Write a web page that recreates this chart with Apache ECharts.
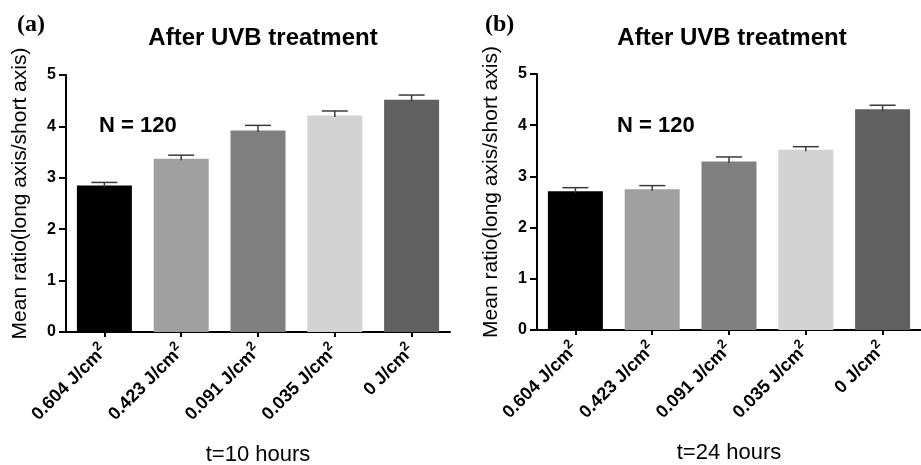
<!DOCTYPE html>
<html>
<head>
<meta charset="utf-8">
<script src="https://cdn.jsdelivr.net/npm/echarts@6/dist/echarts.min.js"></script>
<style>html,body{margin:0;padding:0;background:#fff;}#c{width:921px;height:465px;}</style>
</head>
<body>
<div id="c"></div>
<script>
const categories = ['0.604 J/cm', '0.423 J/cm', '0.091 J/cm', '0.035 J/cm', '0 J/cm'];
const means10h = [2.85, 3.37, 3.92, 4.21, 4.52];
const err10h = [0.06, 0.07, 0.10, 0.09, 0.09];
const means24h = [2.71, 2.75, 3.29, 3.52, 4.31];
const err24h = [0.07, 0.07, 0.09, 0.06, 0.08];
const barColors = ['#000000', '#a0a0a0', '#808080', '#d3d3d3', '#606060'];

const FONT = 'Liberation Sans';
const chart = echarts.init(document.getElementById('c'), null, {renderer: 'canvas'});

function barData(vals) {
  return vals.map((v, i) => ({value: v, itemStyle: {color: barColors[i]}}));
}
function errData(vals, errs) {
  return vals.map((v, i) => [i, v, errs[i]]);
}
function errRender(params, api) {
  const x = api.value(0), v = api.value(1), e = api.value(2);
  const p0 = api.coord([x, v]);
  const p1 = api.coord([x, v + e]);
  const st = {stroke: '#3a3a3a', lineWidth: 1.5};
  return {
    type: 'group',
    children: [
      {type: 'line', shape: {x1: p0[0], y1: p0[1] + 1.5, x2: p1[0], y2: p1[1]}, style: st},
      {type: 'line', shape: {x1: p1[0] - 13, y1: p1[1], x2: p1[0] + 13, y2: p1[1]}, style: st}
    ]
  };
}
function xAxis(idx, name) {
  return {
    type: 'category', gridIndex: idx, data: categories,
    axisLine: {show: true, lineStyle: {color: '#000', width: 2}},
    axisTick: {show: true, alignWithLabel: true, length: 5, lineStyle: {color: '#000', width: 2}},
    axisLabel: {
      interval: 0, rotate: 45, margin: 16, color: '#000',
      formatter: v => '{n|' + v + '}{s|2}',
      rich: {
        n: {fontFamily: FONT, fontWeight: 'bold', fontSize: 18, color: '#000'},
        s: {fontFamily: FONT, fontWeight: 'bold', fontSize: 13, color: '#000', verticalAlign: 'top', padding: [0, 0, 12, 0]}
      }
    },
    name: name, nameLocation: 'middle', nameGap: 112,
    nameTextStyle: {fontFamily: FONT, fontSize: 22, color: '#000'}
  };
}
function yAxis(idx) {
  return {
    type: 'value', gridIndex: idx, min: 0, max: 5, interval: 1,
    axisLine: {show: true, lineStyle: {color: '#000', width: 2}},
    axisTick: {show: true, length: 7, lineStyle: {color: '#000', width: 2}},
    splitLine: {show: false},
    axisLabel: {fontFamily: FONT, fontWeight: 'bold', fontSize: 16, color: '#000', margin: 10},
    name: 'Mean ratio(long axis/short axis)', nameLocation: 'middle', nameGap: 35,
    nameTextStyle: {fontFamily: FONT, fontSize: 21, color: '#000', padding: [0, 0, 0, 20]}
  };
}

chart.setOption({
  animation: false,
  backgroundColor: '#fff',
  title: [
    {text: 'After UVB treatment', left: 258, top: 21, textAlign: 'center',
     textStyle: {fontFamily: FONT, fontWeight: 'bold', fontSize: 24, color: '#000'}},
    {text: 'After UVB treatment', left: 727, top: 21, textAlign: 'center',
     textStyle: {fontFamily: FONT, fontWeight: 'bold', fontSize: 24, color: '#000'}},
    {text: '(a)', left: 12, top: 8,
     textStyle: {fontFamily: 'Liberation Serif', fontWeight: 'bold', fontSize: 24, color: '#000'}},
    {text: '(b)', left: 480, top: 8,
     textStyle: {fontFamily: 'Liberation Serif', fontWeight: 'bold', fontSize: 24, color: '#000'}},
    {text: 'N = 120', left: 94, top: 110,
     textStyle: {fontFamily: FONT, fontWeight: 'bold', fontSize: 22, color: '#000'}},
    {text: 'N = 120', left: 612, top: 110,
     textStyle: {fontFamily: FONT, fontWeight: 'bold', fontSize: 22, color: '#000'}}
  ],
  grid: [
    {left: 66, top: 75, width: 384, height: 257, containLabel: false, outerBoundsMode: 'none'},
    {left: 537, top: 74, width: 384, height: 256, containLabel: false, outerBoundsMode: 'none'}
  ],
  xAxis: [xAxis(0, 't=10 hours'), xAxis(1, 't=24 hours')],
  yAxis: [yAxis(0), yAxis(1)],
  series: [
    {type: 'bar', xAxisIndex: 0, yAxisIndex: 0, barWidth: 55, data: barData(means10h)},
    {type: 'custom', xAxisIndex: 0, yAxisIndex: 0, renderItem: errRender, data: errData(means10h, err10h), z: 5},
    {type: 'bar', xAxisIndex: 1, yAxisIndex: 1, barWidth: 55, data: barData(means24h)},
    {type: 'custom', xAxisIndex: 1, yAxisIndex: 1, renderItem: errRender, data: errData(means24h, err24h), z: 5}
  ]
});
</script>
</body>
</html>
